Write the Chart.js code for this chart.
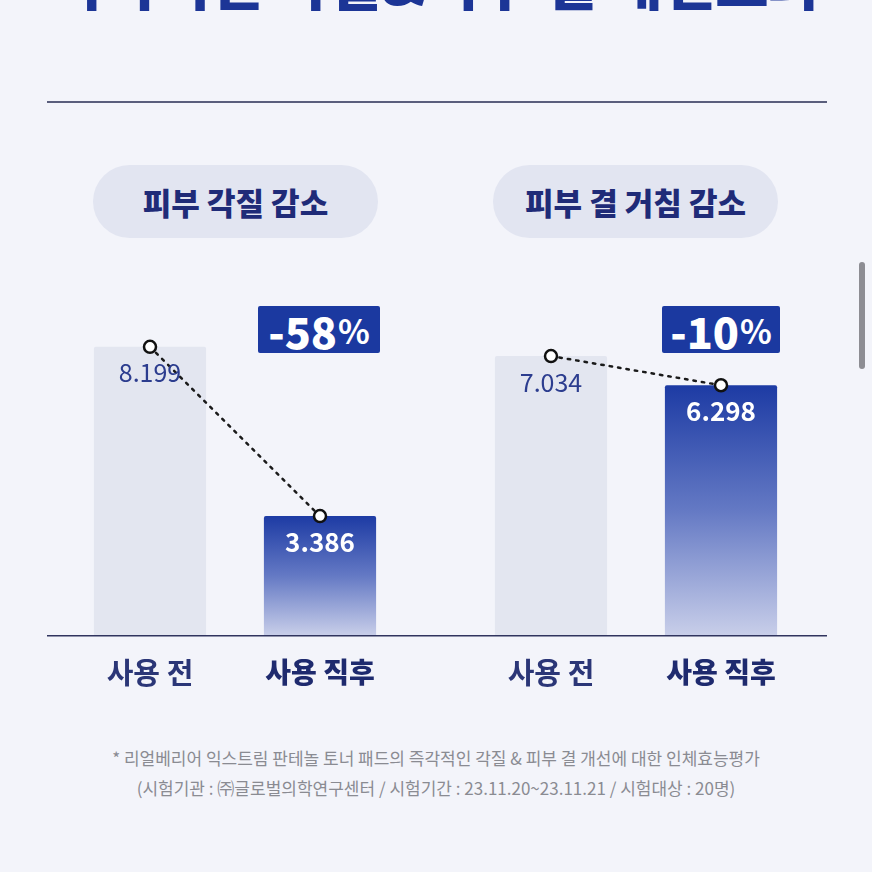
<!DOCTYPE html>
<html><head><meta charset="utf-8">
<script src="https://cdn.jsdelivr.net/npm/chart.js@4.4.1/dist/chart.umd.min.js"></script>
<style>
html,body{margin:0;padding:0;}
body{width:872px;height:872px;background:#f3f4fa;position:relative;overflow:hidden;font-family:"Noto Sans CJK KR","Noto Sans",sans-serif;}
.title{position:absolute;left:0;width:872px;top:-50px;text-align:center;font-size:58px;line-height:60px;font-weight:900;color:#1c3596;letter-spacing:-0.5px;white-space:nowrap;}
.rule{position:absolute;left:47px;width:780px;top:101px;height:2px;background:#5a5e7c;}
.pill{position:absolute;top:165px;width:285px;height:73px;border-radius:37px;background:#e2e5f1;color:#1f2b78;font-weight:800;font-size:31px;display:flex;align-items:center;justify-content:center;letter-spacing:0px;}
.badge{position:absolute;top:306px;height:47px;background:#1b39a0;color:#fff;font-weight:800;font-size:43px;display:flex;align-items:center;justify-content:center;border-radius:2px;}
.badge span{font-size:33px;margin-left:1px;font-weight:700;}
.cv{position:absolute;top:270px;}
.note{position:absolute;left:0;width:872px;text-align:center;font-size:17px;color:#8a8b92;white-space:nowrap;}
.scroll{position:absolute;left:859px;top:262px;width:6px;height:107px;border-radius:3px;background:#8d8d93;}
</style></head>
<body>
<div class="title" id="title"></div>
<div class="rule"></div>
<div class="pill" id="pill0" style="left:93px"></div>
<div class="pill" id="pill1" style="left:493px"></div>
<div class="badge" id="badge0" style="left:258px;width:122px"></div>
<div class="badge" id="badge1" style="left:662px;width:118px"></div>
<div class="cv" style="left:47px;width:389px;height:440px"><canvas id="c0"></canvas></div>
<div class="cv" style="left:436px;width:391px;height:440px"><canvas id="c1"></canvas></div>
<div class="note" id="note0" style="top:745px"></div>
<div class="note" id="note1" style="top:775px"></div>
<div class="scroll"></div>
<script>
const titleText = '즉각적인 각질&피부 결 개선효과';
const groupTitles = ['피부 각질 감소', '피부 결 거침 감소'];
const categories = ['사용 전', '사용 직후'];
const keratinValues = [8.199, 3.386];
const roughnessValues = [7.034, 6.298];
const changeNumbers = ['-58', '-10'];
const footnotes = [
  '* 리얼베리어 익스트림 판테놀 토너 패드의 즉각적인 각질 & 피부 결 개선에 대한 인체효능평가',
  '(시험기관 : ㈜글로벌의학연구센터 / 시험기간 : 23.11.20~23.11.21 / 시험대상 : 20명)'
];

document.getElementById('title').textContent = titleText;
groupTitles.forEach((t,i)=>document.getElementById('pill'+i).textContent=t);
changeNumbers.forEach((t,i)=>{document.getElementById('badge'+i).innerHTML=t+'<span>%</span>';});
footnotes.forEach((t,i)=>document.getElementById('note'+i).textContent=t);

const FONT = '"Noto Sans CJK KR","Noto Sans",sans-serif';

const baselinePlugin = {
  id:'baseline',
  afterDatasetsDraw(chart){
    const c = chart.ctx, y = chart.chartArea.bottom;
    c.save(); c.strokeStyle='#30345e'; c.lineWidth=1.6;
    c.beginPath(); c.moveTo(0,y+0.5); c.lineTo(chart.width,y+0.5); c.stroke(); c.restore();
  }
};
const valueLabelPlugin = {
  id:'valueLabels',
  afterDatasetsDraw(chart){
    const meta = chart.getDatasetMeta(0);
    const data = chart.data.datasets[0].data;
    const c = chart.ctx;
    c.save(); c.textAlign='center'; c.textBaseline='middle';
    meta.data.forEach((bar,i)=>{
      if(i===0){ c.fillStyle='#2c3d8f'; c.font='400 25px '+FONT; }
      else { c.fillStyle='#ffffff'; c.font='600 26px '+FONT; }
      c.fillText(data[i].toFixed(3), bar.x, bar.y+26);
    });
    c.restore();
  }
};

function afterGradient(ctx){
  const chart = ctx.chart, area = chart.chartArea;
  if(!area) return '#2a47aa';
  if(ctx.dataIndex===0) return '#e3e6f0';
  const top = chart.scales.y.getPixelForValue(ctx.raw);
  const g = chart.ctx.createLinearGradient(0, top, 0, area.bottom);
  g.addColorStop(0,'#1d3ba4');
  g.addColorStop(0.5,'#6479c4');
  g.addColorStop(1,'#c8cee9');
  return g;
}

function makeChart(id, values, yMax, padL, padR){
  return new Chart(document.getElementById(id), {
    data:{
      labels:categories,
      datasets:[
        {type:'bar', data:values, backgroundColor:afterGradient, borderRadius:2, borderSkipped:'bottom',
         categoryPercentage:1, barPercentage:0.66, order:2},
        {type:'line', data:values, borderColor:'#1a1a1a', borderWidth:2.5, borderDash:[2.5,6], borderCapStyle:'round',
         pointRadius:6, pointBackgroundColor:'#ffffff', pointBorderColor:'#111111', pointBorderWidth:2.5, order:1}
      ]
    },
    options:{
      responsive:true, maintainAspectRatio:false, animation:false,
      layout:{padding:{top:10,left:padL,right:padR,bottom:0}},
      plugins:{legend:{display:false}, tooltip:{enabled:false}},
      scales:{
        x:{grid:{display:false,drawTicks:false}, border:{display:false},
           ticks:{padding:20, color:(c)=>c.index===1?'#1e2a6e':'#2b3677',
                  font:(c)=>({family:FONT,size:c.index===1?28:29,weight:c.index===1?'800':'600'})}},
        y:{display:false, min:0, max:yMax}
      }
    },
    plugins:[baselinePlugin, valueLabelPlugin]
  });
}
makeChart('c0', keratinValues, 10.1, 18, 31);
makeChart('c1', roughnessValues, 8.95, 30, 21);
</script>
</body></html>
